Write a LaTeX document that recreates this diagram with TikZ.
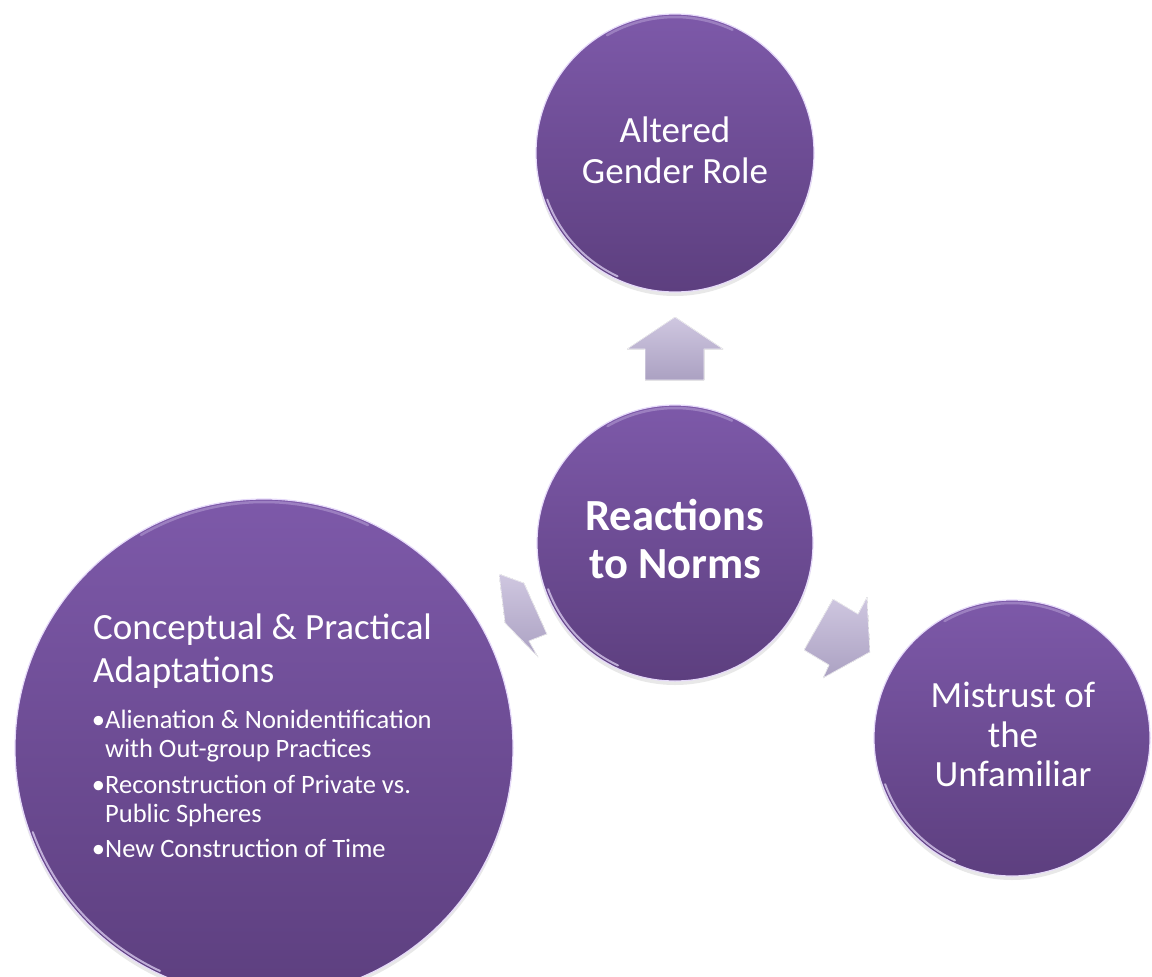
\documentclass[tikz,border=0pt]{standalone}
\usepackage{fontspec}
\setmainfont{Carlito}
\usetikzlibrary{shadows}
\definecolor{bubtop}{HTML}{7D59A9}
\definecolor{bubbot}{HTML}{5D3F7F}
\definecolor{rimc}{HTML}{E6DAFA}
\definecolor{arrtop}{HTML}{CFC7E0}
\definecolor{arrbot}{HTML}{ABA1C2}
\tikzset{
  bub/.style={circle, top color=bubtop, bottom color=bubbot, draw=rimc, line width=1.2pt,
    inner sep=0pt, drop shadow={opacity=0.18, shadow xshift=0pt, shadow yshift=-4pt}},
  gloss/.style={rimc, opacity=0.7, line width=2pt, line cap=round},
  softgloss/.style={rimc, opacity=0.3, line width=2.5pt, line cap=round},
  blockarrow/.style={top color=arrtop, bottom color=arrbot, draw=white, draw opacity=0.8,
    line width=0.8pt, line join=round},
  big/.style={text=white, inner sep=0pt, font=\fontsize{37}{41}\selectfont},
  bigbold/.style={text=white, inner sep=0pt, font=\fontsize{44.5}{48}\bfseries\selectfont},
  small/.style={text=white, inner sep=0pt, font=\fontsize{26.5}{29}\selectfont},
}
\begin{document}
\begin{tikzpicture}[x=1pt,y=-1pt]
\useasboundingbox (0,0) rectangle (1152,977);
\clip (0,0) rectangle (1152,977);

% circles
\node[bub, minimum size=498pt] (adapt) at (264,748) {};
\node[bub, minimum size=278pt] (gender) at (675,153) {};
\node[bub, minimum size=276pt] (norms) at (675,543) {};
\node[bub, minimum size=276pt] (mistrust) at (1012,738) {};

% gloss highlights near the rim
\foreach \c/\r in {gender/136, norms/135, mistrust/135, adapt/246} {
  \draw[gloss] (\c.center) ++(200:\r pt) arc (200:245:\r pt);
  \draw[softgloss] (\c.center) ++(65:\r pt) arc (65:120:\r pt);
}

% block arrows
\fill[blockarrow] (675,317) -- (723,349) -- (704,349) -- (704,380) -- (645,380)
  -- (645,349) -- (627,349) -- cycle;
\fill[blockarrow] (499,574) -- (524,583) -- (547,634) -- (529,641) -- (538,657)
  -- (505,623) -- cycle;
\fill[blockarrow] (804,650) -- (833,599) -- (858,614) -- (867,597) -- (870,652)
  -- (823,678) -- (829,665) -- cycle;

% texts
\node[big, anchor=base] (g1) at (675,142) {Altered};
\node[big, anchor=base] (g2) at (675,183) {Gender Role};

\node[bigbold, anchor=base] (n1) at (675,530) {Reactions};
\node[bigbold, anchor=base] (n2) at (675,578) {to Norms};

\node[big, anchor=base] (m1) at (1013,707) {Mistrust of};
\node[big, anchor=base] (m2) at (1013,747) {the};
\node[big, anchor=base] (m3) at (1013,786) {Unfamiliar};

\node[big, anchor=base west] (a1) at (93,639) {Conceptual \& Practical};
\node[big, anchor=base west] (a2) at (93,682) {Adaptations};

\node[small, anchor=base] (b1) at (98.5,728) {•};
\node[small, anchor=base west] (t1) at (105,728) {Alienation \& Nonidentification};
\node[small, anchor=base west] (t1b) at (105,757) {with Out-group Practices};
\node[small, anchor=base] (b2) at (98.5,793) {•};
\node[small, anchor=base west] (t2) at (105,793) {Reconstruction of Private vs.};
\node[small, anchor=base west] (t2b) at (105,822) {Public Spheres};
\node[small, anchor=base] (b3) at (98.5,857) {•};
\node[small, anchor=base west] (t3) at (105,857) {New Construction of Time};
\end{tikzpicture}
\end{document}
